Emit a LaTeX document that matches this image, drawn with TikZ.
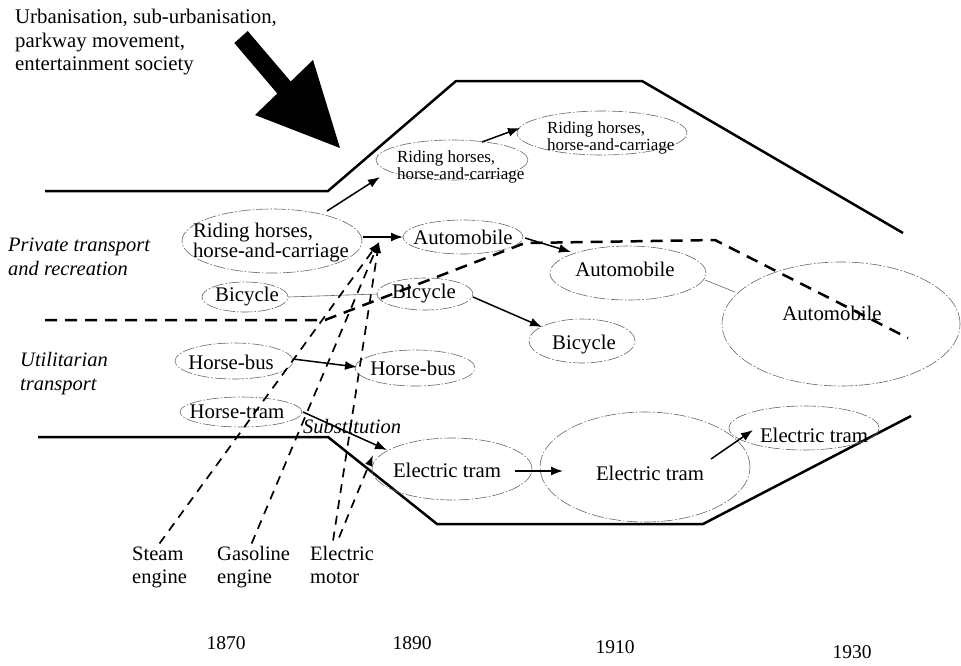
\documentclass[tikz,border=0pt]{standalone}
\usepackage{fontspec}
\setmainfont{Liberation Serif}
\usetikzlibrary{arrows.meta,shapes.geometric,calc}
\begin{document}
\begin{tikzpicture}[x=1pt,y=-1pt,
  ell/.style={ellipse,draw=black!60,line width=0.6pt,dash pattern=on 12pt off 2pt on 1.5pt off 2pt,inner sep=0pt,outer sep=0pt},
  txt/.style={font=\fontsize{20.8}{20}\selectfont,inner sep=0pt,outer sep=0pt},
  smalltxt/.style={font=\fontsize{17}{17}\selectfont,inner sep=0pt,outer sep=0pt,align=left,anchor=north west},
  sidetxt/.style={font=\fontsize{20.5}{23.5}\selectfont\itshape,inner sep=0pt,align=left,anchor=north west},
  techtxt/.style={font=\fontsize{20.5}{23}\selectfont,inner sep=0pt,align=left,anchor=north west},
  yeartxt/.style={font=\fontsize{19.5}{19.5}\selectfont,inner sep=0pt},
  bound/.style={line width=2.5pt,line join=miter},
  sepline/.style={line width=2.5pt,dash pattern=on 12pt off 8pt},
  arr/.style={line width=1.5pt,-{Latex[length=12pt,width=9pt]}},
  thin/.style={line width=0.6pt,draw=black!60},
  tech/.style={line width=1.7pt,dash pattern=on 9pt off 7pt,-{Latex[length=11pt,width=8pt]}}
]
\useasboundingbox (0,0) rectangle (961,665);

% top label and big arrow
\node[font=\fontsize{20.8}{23.5}\selectfont,inner sep=0pt,align=left,anchor=north west] (urb) at (15,9) {Urbanisation, sub-urbanisation,\\parkway movement,\\entertainment society};
\fill (234.3,43) -- (247.7,31) -- (290.7,81.5) -- (313,60) -- (340,148) -- (255,115) -- (277.3,93.5) -- cycle;

% boundary lines
\draw[bound] (45,191) -- (328,191) -- (456,81) -- (642,81) -- (903,233);
\draw[bound] (38,437) -- (328,437) -- (437,524) -- (703,524) -- (911,416);
\draw[sepline] (45,320) -- (325,320) -- (525,243) -- (715,240) -- (908,338);

% side labels
\node[sidetxt] (priv) at (8,238) {Private transport\\and recreation};
\node[sidetxt] (util) at (20,352.5) {Utilitarian\\transport};

% ellipses
\node[ell,minimum width=180pt,minimum height=64pt] (RH0) at (272,241) {};
\node[ell,minimum width=152pt,minimum height=40pt] (RH1) at (452,160) {};
\node[ell,minimum width=170pt,minimum height=44pt] (RH2) at (602,133) {};
\node[ell,minimum width=120pt,minimum height=34pt] (Auto1) at (463,237) {};
\node[ell,minimum width=156pt,minimum height=54pt] (Auto2) at (628,273) {};
\node[ell,minimum width=238pt,minimum height=124pt] (Auto3) at (841,324) {};
\node[ell,minimum width=86pt,minimum height=30pt] (Bic0) at (245,297) {};
\node[ell,minimum width=96pt,minimum height=32pt] (Bic1) at (425,294) {};
\node[ell,minimum width=106pt,minimum height=44pt] (Bic2) at (582,341) {};
\node[ell,minimum width=118pt,minimum height=36pt] (HB0) at (234,361) {};
\node[ell,minimum width=120pt,minimum height=36pt] (HB1) at (415,368) {};
\node[ell,minimum width=122pt,minimum height=30pt] (HT0) at (241,412) {};
\node[ell,minimum width=160pt,minimum height=62pt] (ET1) at (452,469) {};
\node[ell,minimum width=210pt,minimum height=110pt] (ET2) at (645,467) {};
\node[ell,minimum width=150pt,minimum height=44pt] (ET3) at (804,428) {};

% ellipse texts
\node[txt,align=left,anchor=north west] (tRH0) at (193,223.5) {Riding horses,\\horse-and-carriage};
\node[smalltxt] (tRH1) at (397,151) {Riding horses,\\horse-and-carriage};
\node[smalltxt] (tRH2) at (547,122) {Riding horses,\\horse-and-carriage};
\node[txt] (tAuto1) at (463,237) {Automobile};
\node[txt] (tAuto2) at (625,269) {Automobile};
\node[txt] (tAuto3) at (832,313) {Automobile};
\node[txt] (tBic0) at (247,297) {Bicycle};
\node[txt] (tBic1) at (424,294) {Bicycle};
\node[txt] (tBic2) at (584,345) {Bicycle};
\node[txt] (tHB0) at (231,362) {Horse-bus};
\node[txt] (tHB1) at (413,368) {Horse-bus};
\node[txt] (tHT0) at (237,412) {Horse-tram};
\node[txt] (tET1) at (447,470) {Electric tram};
\node[txt] (tET2) at (650,473) {Electric tram};
\node[txt] (tET3) at (814,435) {Electric tram};

% connectors
\draw[arr] ($(RH0)+(55,-30)$) -- ($(RH1)+(-72,17)$);
\draw[arr] ($(RH1)+(30,-18)$) -- ($(RH2)+(-82,-5)$);
\draw[arr] ($(RH0)+(91,-4)$) -- ($(Auto1)+(-60,0)$);
\draw[arr] ($(Auto1)+(62,1)$) -- ($(Auto2)+(-57,-21)$);
\draw[thin] ($(Auto2)+(77,7)$) -- ($(Auto3)+(-106,-32)$);
\draw[thin] (Bic0.east) -- (Bic1.west);
\draw[arr] ($(Bic1)+(48,3)$) -- ($(Bic2)+(-40,-14)$);
\draw[arr] ($(HB0)+(59,-2)$) -- ($(HB1)+(-58,-1)$);
\draw[arr] ($(HT0)+(62,0)$) -- ($(ET1)+(-65,-19)$);
\draw[arr] ($(ET1)+(63,2)$) -- ($(ET2)+(-82,4)$);
\draw[arr] ($(ET2)+(66,-8)$) -- ($(ET3)+(-51,2)$);
\node[font=\fontsize{20.5}{20}\selectfont\itshape,inner sep=0pt,anchor=base west] (subst) at (303,433) {Substitution};

% technologies
\node[techtxt] (steam) at (132,546.5) {Steam\\engine};
\node[techtxt] (gas) at (217,546.5) {Gasoline\\engine};
\node[techtxt] (elec) at (310,546.5) {Electric\\motor};
\coordinate (conv) at (379,242);
\draw[tech] ($(steam.north)+(0,-3)$) -- (conv);
\draw[tech] ($(gas.north)+(-2,-3)$) -- (conv);
\draw[tech] ($(elec.north)+(-9,-6)$) -- (conv);
\draw[tech] ($(elec.north)+(-3,-9)$) -- ($(ET1)+(-79,-14)$);

% years
\node[yeartxt] (y1870) at (226,643) {1870};
\node[yeartxt] (y1890) at (412,643) {1890};
\node[yeartxt] (y1910) at (615,647) {1910};
\node[yeartxt] (y1930) at (852,652) {1930};
\end{tikzpicture}
\end{document}
